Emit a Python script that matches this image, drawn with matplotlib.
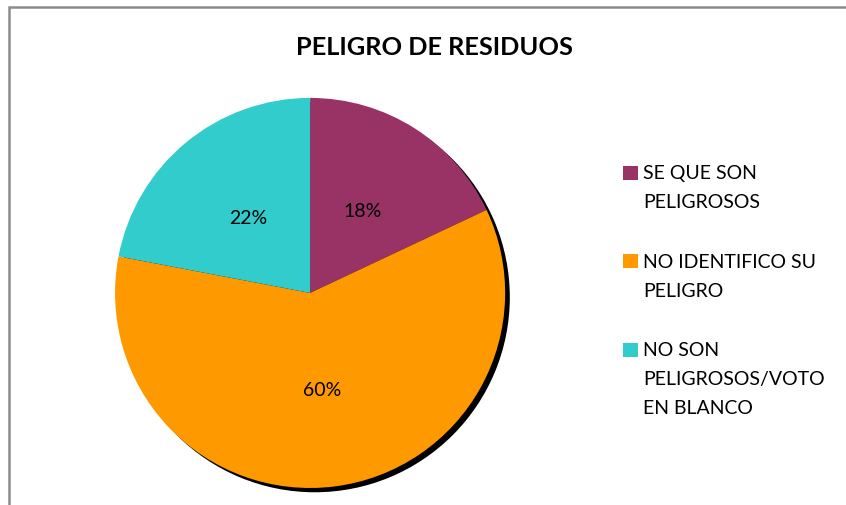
import matplotlib
matplotlib.use("Agg")
import matplotlib.pyplot as plt
from matplotlib.patches import Rectangle

plt.rcParams['font.family'] = ['Lato', 'DejaVu Sans']

title = "PELIGRO DE RESIDUOS"
labels = ["SE QUE SON\nPELIGROSOS", "NO IDENTIFICO SU\nPELIGRO", "NO SON\nPELIGROSOS/VOTO\nEN BLANCO"]
values = [18, 60, 22]
colors = ["#993366", "#FF9900", "#33CCCC"]

W, H = 846, 506
fig = plt.figure(figsize=(W / 100, H / 100), dpi=100)

# chart-area border (only left and top show in the crop)
fig.add_artist(Rectangle((9 / W, -0.1), 1.2, 1.1 - 8 / H, transform=fig.transFigure,
                         fill=False, edgecolor="#8c8c8c", linewidth=1.8))

ax = fig.add_axes([0.136, 0.022, 0.468, 0.7826])
ax.axis("off")

# shadow
ax.pie([sum(values)], colors=["black"], radius=1.0, center=(0.024, -0.022),
       startangle=90, counterclock=False, frame=False)

wedges, texts, autotexts = ax.pie(values, colors=colors, startangle=90, counterclock=False,
                                  autopct="%d%%", pctdistance=0.5, radius=1.0, frame=False,
                                  textprops=dict(fontsize=14, color="black"))
ax.set_xlim(-1.0, 1.03)
ax.set_ylim(-1.03, 1.0)
ax.set_aspect("equal")

fig.text(0.513, 0.907, title, ha="center", va="center", fontsize=18.3, fontweight="bold")

# legend: square aligned with first line of each label
line_h = 28.7 / H
gap = 31 / H
y = 1 - 174 / H
for wdg, lab in zip(wedges, labels):
    fig.add_artist(Rectangle((623 / W, y - 7 / H), 15 / W, 14 / H, transform=fig.transFigure,
                             facecolor=wdg.get_facecolor(), edgecolor="none"))
    n = lab.count("\n") + 1
    for i, line in enumerate(lab.split("\n")):
        fig.text(643 / W, y - i * line_h, line, ha="left", va="center", fontsize=14)
    y -= n * line_h + gap

fig.savefig("out.png", dpi=100)
